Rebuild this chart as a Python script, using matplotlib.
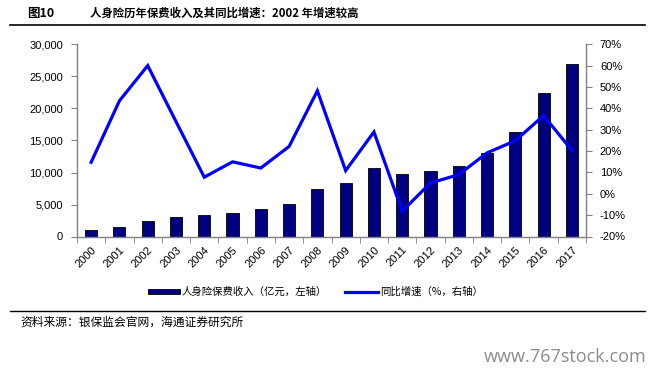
import matplotlib
matplotlib.use("Agg")
import matplotlib.pyplot as plt
from matplotlib.lines import Line2D
from matplotlib.patches import Rectangle
from matplotlib.ticker import FuncFormatter, MultipleLocator, FixedLocator
import numpy as np

plt.rcParams['font.family'] = ['Liberation Sans', 'Noto Sans CJK SC', 'DejaVu Sans']

years = ["2000", "2001", "2002", "2003", "2004", "2005", "2006", "2007", "2008",
         "2009", "2010", "2011", "2012", "2013", "2014", "2015", "2016", "2017"]
premium = [1000, 1430, 2370, 3100, 3310, 3670, 4250, 5030, 7420,
           8410, 10700, 9710, 10290, 11000, 13100, 16330, 22420, 26900]
growth = [14.8, 43.6, 60.1, 33.9, 7.8, 15.0, 12.1, 22.2, 48.3,
          10.9, 29.0, -8.1, 5.1, 9.0, 19.2, 24.9, 36.7, 20.4]

NAVY = "#000080"
BLUE = "#0000FF"
GREY = "#808080"
CJK = ['Noto Sans CJK SC', 'DejaVu Sans']

fig = plt.figure(figsize=(6.55, 3.74), dpi=100)
ax = fig.add_axes([77 / 655, 1 - 236.5 / 374, 509 / 655, 192 / 374])
ax2 = ax.twinx()

x = np.arange(len(years))
ax.bar(x, premium, width=0.43, color=NAVY, edgecolor="black", linewidth=0.6, zorder=2)
ax2.plot(x, growth, color=BLUE, linewidth=2.3, solid_joinstyle="miter", zorder=3)

ax.set_xlim(-0.5, len(years) - 0.5)
ax.set_ylim(0, 30000)
ax.yaxis.set_major_locator(MultipleLocator(5000))
ax.yaxis.set_major_formatter(FuncFormatter(lambda v, p: f"{int(v):,}"))
ax2.set_ylim(-20, 70)
ax2.yaxis.set_major_locator(MultipleLocator(10))
ax2.yaxis.set_major_formatter(FuncFormatter(lambda v, p: f"{int(v)}%"))

ax.set_xticks(x)
ax.set_xticklabels(years, rotation=45, ha="right", rotation_mode="anchor", fontsize=8)
ax.xaxis.set_minor_locator(FixedLocator(np.arange(-0.5, len(years), 1)))
ax.tick_params(axis="x", which="major", length=0, pad=6)
ax.tick_params(axis="x", which="minor", length=4, color=GREY, direction="out")
ax.tick_params(axis="y", length=4, color=GREY, labelsize=8, pad=6)
ax2.tick_params(axis="y", length=4, color=GREY, labelsize=8, pad=6)

for a in (ax, ax2):
    a.spines["top"].set_visible(False)
    for s in ("left", "right", "bottom"):
        a.spines[s].set_color(GREY)
        a.spines[s].set_linewidth(1.0)
ax.spines["right"].set_visible(False)
ax2.spines["left"].set_visible(False)
ax2.spines["bottom"].set_visible(False)

# title and rules
fig.text(27 / 655, 1 - 13 / 374, "图10", fontsize=9, fontweight="bold", va="center", family=CJK)
fig.text(90 / 655, 1 - 13 / 374, "人身险历年保费收入及其同比增速：2002 年增速较高",
         fontsize=8.2, fontweight="bold", va="center", family=CJK)
fig.add_artist(Line2D([10 / 655, 645 / 655], [1 - 25 / 374] * 2, color="black", lw=1.2))
fig.add_artist(Line2D([10 / 655, 645 / 655], [1 - 311 / 374] * 2, color="black", lw=1.0))

# legend
ly = 1 - 291.5 / 374
fig.add_artist(Rectangle((148 / 655, ly - 2.5 / 374), 32 / 655, 5 / 374,
                         facecolor=NAVY, edgecolor="black", lw=0.6))
fig.text(182 / 655, ly, "人身险保费收入（亿元，左轴）", fontsize=7.5, va="center", family=CJK)
fig.add_artist(Line2D([345 / 655, 378 / 655], [ly, ly], color=BLUE, lw=2.3))
fig.text(380 / 655, ly, "同比增速（%，右轴）", fontsize=7.5, va="center", family=CJK)

fig.text(20 / 655, 1 - 322 / 374, "资料来源：银保监会官网，海通证券研究所", fontsize=8.5, va="center", family=CJK)
fig.text(647 / 655, 1 - 357 / 374, "www.767stock.com", fontsize=13, color="#8c8c8c",
         ha="right", va="center", family=['Open Sans', 'DejaVu Sans'])

fig.savefig("out.png", dpi=100)
